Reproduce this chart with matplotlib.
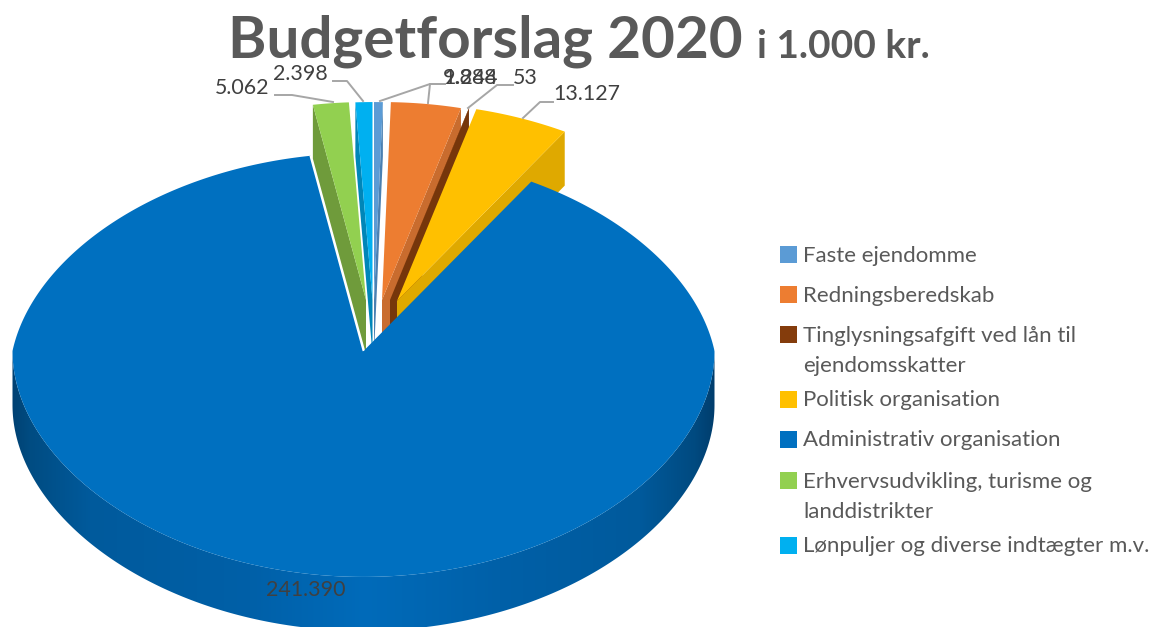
import numpy as np
import matplotlib
matplotlib.use("Agg")
import matplotlib.pyplot as plt
from matplotlib.colors import to_rgb
from matplotlib.patches import Polygon

categories = ["Faste ejendomme", "Redningsberedskab",
              "Tinglysningsafgift ved lån til\nejendomsskatter",
              "Politisk organisation", "Administrativ organisation",
              "Erhvervsudvikling, turisme og\nlanddistrikter",
              "Lønpuljer og diverse indtægter m.v."]
values = [1244, 9888, 53, 13127, 241390, 5062, 2398]
value_labels = ["1.244", "9.888", "53", "13.127", "241.390", "5.062", "2.398"]

top_colors = ["#5B9BD5", "#ED7D31", "#843C0C", "#FFC000", "#0070C0", "#92D050", "#00B0F0"]
wall_colors = ["#4A80B2", "#C96C2E", "#76360B", "#DFA900", "#00508C", "#6F9B3B", "#0086B8"]
apex = [(374, 300), (382, 300), (390, 300), (397, 301), (363.5, 351), (366, 300), (372.5, 300)]
wall_side = ["end", "end", "start", "end", None, "start", "start"]
draw_order = [5, 6, 0, 1, 2, 3]

FONT = "Lato"
GREY = "#595959"
DARK = "#404040"
T = 54
RX, RY, PX, PY = 351, 211, 0.13, 0.066

def proj(theta_deg):
    t = np.radians(theta_deg)
    c = np.cos(t)
    return RX * np.sin(t) / (1 + PX * np.maximum(c, 0)), -RY * c / (1 + PY * c)

fig = plt.figure(figsize=(11.59, 6.27), dpi=100)
ax = fig.add_axes([0, 0, 1, 1])
ax.axis("off")

sweep = 360 * np.array(values) / sum(values)
ends = np.cumsum(sweep)
starts = ends - sweep

def top_poly(i):
    th = np.linspace(starts[i], ends[i], max(int(sweep[i] * 2), 2))
    dx, dy = proj(th)
    a = apex[i]
    return np.r_[a[0], a[0] + dx], np.r_[a[1], a[1] + dy]

for i in draw_order:
    a = apex[i]
    if wall_side[i]:
        th = starts[i] if wall_side[i] == "start" else ends[i]
        dx, dy = proj(th)
        xs = [a[0], a[0] + dx, a[0] + dx, a[0]]
        ys = [a[1], a[1] + dy, a[1] + dy + T, a[1] + T]
        ax.fill(xs, ys, color=wall_colors[i], lw=0, zorder=2)
    xs, ys = top_poly(i)
    ax.fill(xs, ys, color=top_colors[i], lw=0, zorder=2)

# Main slice: smooth shaded rim (gradient clipped to the rim outline), then top surface
i_main = 4
cx, cy = apex[i_main]
stops_x = [0, 30, 90, 250, 365, 500, 640, 695, 720]
stops_c = ["#003A68", "#004C82", "#005A9C", "#0060A8", "#006BBA", "#0060A8", "#005A9C", "#004A80", "#003A68"]
stops_rgb = np.array([to_rgb(c) for c in stops_c])
grad_x = np.arange(0, 721)
grad = np.stack([np.interp(grad_x, stops_x, stops_rgb[:, c]) for c in range(3)], axis=-1)[None, :, :]
th = np.linspace(90, 270, 400)
dx, dy = proj(th)
x, y = cx + dx, cy + dy
outline = np.r_[np.c_[x, y], np.c_[x[::-1], y[::-1] + T]]
rim = Polygon(outline, closed=True, facecolor="none", edgecolor="none", transform=ax.transData)
ax.add_patch(rim)
img = ax.imshow(grad, extent=(0, 720, 660, 300), aspect="auto", interpolation="bilinear", zorder=3)
img.set_clip_path(rim)

xs, ys = top_poly(i_main)
ax.fill(xs, ys, color=top_colors[i_main], lw=0, zorder=4)
ax.plot([xs[0], xs[-1]], [ys[0], ys[-1]], color="white", lw=1.3, zorder=5, solid_capstyle="butt")

# Leader lines
leaders = {
    0: [(445, 84), (430, 84), (380, 101)],
    1: [(445, 84), (430, 84), (428, 103)],
    2: [(513, 85), (497, 85), (468, 108)],
    3: [(553, 102), (540, 102), (523, 118)],
    5: [(275, 95), (292, 95), (333, 102)],
    6: [(333, 81), (347, 81), (363, 101)],
}
for pts in leaders.values():
    ax.plot(*zip(*pts), color="#A6A6A6", lw=1.4, zorder=6)

# Value labels
label_pos = {0: (443, 78.5), 1: (443, 78.5), 2: (513, 78.5), 3: (553, 94.5), 4: (266, 590), 5: (215, 88.5), 6: (273, 73.5)}
for i, (px, py) in label_pos.items():
    ax.text(px, py, value_labels[i], fontsize=15.4, family=FONT, color=DARK, ha="left", va="center", zorder=7)

# Title
ax.text(228, 58, "Budgetforslag 2020", fontsize=42, family=FONT, weight="bold", color=GREY, ha="left", va="baseline")
ax.text(757, 58, "i 1.000 kr.", fontsize=28, family=FONT, weight="bold", color=GREY, ha="left", va="baseline")

# Legend
legend_y = [254, 294, 334, 399, 439, 480, 545]
line_h = 30
for i, yy in enumerate(legend_y):
    ax.add_patch(plt.Rectangle((780, yy - 8.5), 17, 17, color=top_colors[i], lw=0))
    for j, line in enumerate(categories[i].split("\n")):
        ax.text(803, yy + 1.5 + j * line_h, line, fontsize=16, family=FONT, color=GREY, ha="left", va="center")

ax.set_xlim(0, 1159)
ax.set_ylim(627, 0)
fig.savefig("out.png", dpi=100)
